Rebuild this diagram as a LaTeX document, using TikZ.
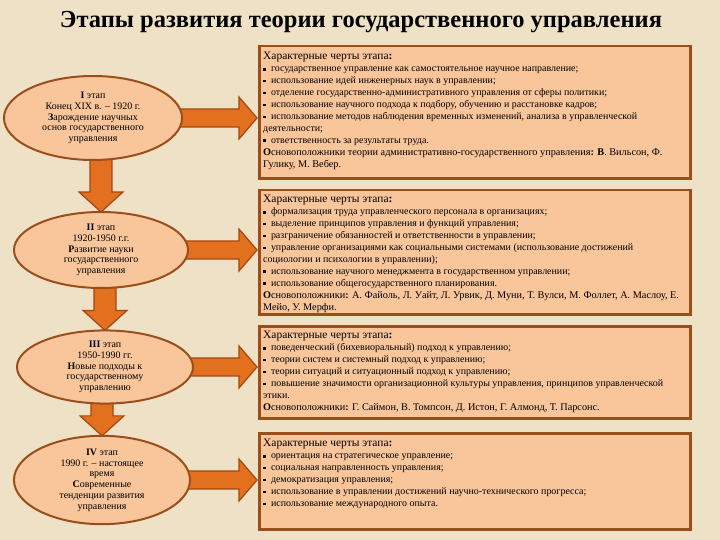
\documentclass[tikz,border=0pt]{standalone}
\usepackage{fontspec}
\setmainfont{Liberation Serif}
\usetikzlibrary{shapes.geometric,calc,positioning}
\definecolor{parchment}{HTML}{EEE1C6}
\definecolor{peach}{HTML}{F9C59B}
\definecolor{rust}{HTML}{9A4E1C}
\definecolor{arrowfill}{HTML}{E2701F}
\definecolor{arrowline}{HTML}{A4460E}
\pgfdeclarelayer{background}
\pgfsetlayers{background,main}
\tikzset{
stagebox/.style={rectangle, draw=rust, line width=2.5bp, fill=peach, minimum width=431bp, anchor=north west, inner sep=0pt},
boxtext/.style={anchor=north west, align=left, inner sep=0pt, font=\fontsize{10}{12}\selectfont},
stage/.style={ellipse, draw=rust, line width=2bp, fill=peach, inner sep=0pt, align=center, font=\fontsize{10}{10.8}\selectfont},
blockarrow/.style={fill=arrowfill, draw=arrowline, line width=1.2bp, line join=miter}
}
\newcommand{\bul}{\rule[0.25ex]{2.8bp}{2.8bp}\hspace{5bp}}
\newcommand{\featurehead}{{\fontsize{11.5}{12}\selectfont Характерные черты этапа\textbf{:}}}
\newcommand{\founders}{\fontsize{10.3}{12}\selectfont}
% block arrow from an ellipse to its box
\newcommand{\rarrow}[2]{%
  \draw[blockarrow] let \p1=(#1.east), \p2=(#2.west) in
    (\x1-4pt,\y1+9pt) -- (\x2-19pt,\y1+9pt) -- (\x2-19pt,\y1+21pt) -- (\x2-1pt,\y1)
    -- (\x2-19pt,\y1-21pt) -- (\x2-19pt,\y1-9pt) -- (\x1-4pt,\y1-9pt) -- cycle;}
% block arrow from one ellipse down to the next
\newcommand{\darrow}[2]{%
  \draw[blockarrow] let \p1=(#1.south), \p2=(#2.north) in
    (\x2-11pt,\y1+4pt) -- (\x2-11pt,\y2+19pt) -- (\x2-22pt,\y2+19pt) -- (\x2,\y2-1pt)
    -- (\x2+22pt,\y2+19pt) -- (\x2+11pt,\y2+19pt) -- (\x2+11pt,\y1+4pt) -- cycle;}

\begin{document}
\begin{tikzpicture}[x=1bp,y=-1bp]
\useasboundingbox (0,0) rectangle (720,540);
\begin{pgfonlayer}{background}
\fill[parchment] (0,0) rectangle (720,540);
\end{pgfonlayer}

\node[font=\fontsize{24.6}{28}\selectfont\bfseries] (title) at (361,22) {Этапы развития теории государственного управления};

% stages
\node[stage, minimum width=178bp, minimum height=84bp] (e1) at (93,118)
  {\textbf{I} этап\\Конец XIX в. – 1920 г.\\\textbf{З}арождение научных\\основ государственного\\управления};
\node[stage, minimum width=174bp, minimum height=76bp] (e2) at (101,250)
  {\textbf{II} этап\\1920-1950 г.г.\\\textbf{Р}азвитие науки\\государственного\\управления};
\node[stage, minimum width=176bp, minimum height=72bp] (e3) at (105,367)
  {\textbf{III} этап\\1950-1990 гг.\\\textbf{Н}овые подходы к\\государственному\\управлению};
\node[stage, minimum width=176bp, minimum height=86bp] (e4) at (102,480)
  {\textbf{IV} этап\\1990 г. – настоящее\\время\\\textbf{С}овременные\\тенденции развития\\управления};

% boxes
\node[stagebox, minimum height=132bp] (b1) at (258,45) {};
\node[stagebox, minimum height=124bp] (b2) at (258,189) {};
\node[stagebox, minimum height=92bp] (b3) at (258,325) {};
\node[stagebox, minimum height=96bp] (b4) at (258,432) {};

\node[boxtext] (t1) at ([shift={(5,7)}]b1.north west) {\featurehead\\
\bul государственное управление как самостоятельное научное направление;\\
\bul использование идей инженерных наук в управлении;\\
\bul отделение государственно-административного управления от сферы политики;\\
\bul использование научного подхода к подбору, обучению и расстановке кадров;\\
\bul использование методов наблюдения временных изменений, анализа в управленческой\\
деятельности;\\
\bul ответственность за результаты труда.\\
{\founders\textbf{О}сновоположники теории административно-государственного управления\textbf{: В}. Вильсон, Ф.}\\
{\founders Гулику, М. Вебер.}};

\node[boxtext] (t2) at ([shift={(5,6)}]b2.north west) {\featurehead\\
\bul формализация труда управленческого персонала в организациях;\\
\bul выделение принципов управления и функций управления;\\
\bul разграничение обязанностей и ответственности в управлении;\\
\bul управление организациями как социальными системами (использование достижений\\
социологии и психологии в управлении);\\
\bul использование научного менеджмента в государственном управлении;\\
\bul использование общегосударственного планирования.\\
{\founders\textbf{О}сновоположники\textbf{:} А. Файоль, Л. Уайт, Л. Урвик, Д. Муни, Т. Вулси, М. Фоллет, А. Маслоу, Е.}\\
{\founders Мейо, У. Мерфи.}};

\node[boxtext] (t3) at ([shift={(5,6)}]b3.north west) {\featurehead\\
\bul поведенческий (бихевиоральный) подход к управлению;\\
\bul теории систем и системный подход к управлению;\\
\bul теории ситуаций и ситуационный подход к управлению;\\
\bul повышение значимости организационной культуры управления, принципов управленческой\\
этики.\\
{\founders\textbf{О}сновоположники\textbf{:} Г. Саймон, В. Томпсон, Д. Истон, Г. Алмонд, Т. Парсонс.}};

\node[boxtext] (t4) at ([shift={(5,7)}]b4.north west) {\featurehead\\
\bul ориентация на стратегическое управление;\\
\bul социальная направленность управления;\\
\bul демократизация управления;\\
\bul использование в управлении достижений научно-технического прогресса;\\
\bul использование международного опыта.};

% arrows
\begin{pgfonlayer}{background}
\rarrow{e1}{b1}
\rarrow{e2}{b2}
\rarrow{e3}{b3}
\rarrow{e4}{b4}
\darrow{e1}{e2}
\darrow{e2}{e3}
\darrow{e3}{e4}
\end{pgfonlayer}
\end{tikzpicture}
\end{document}
